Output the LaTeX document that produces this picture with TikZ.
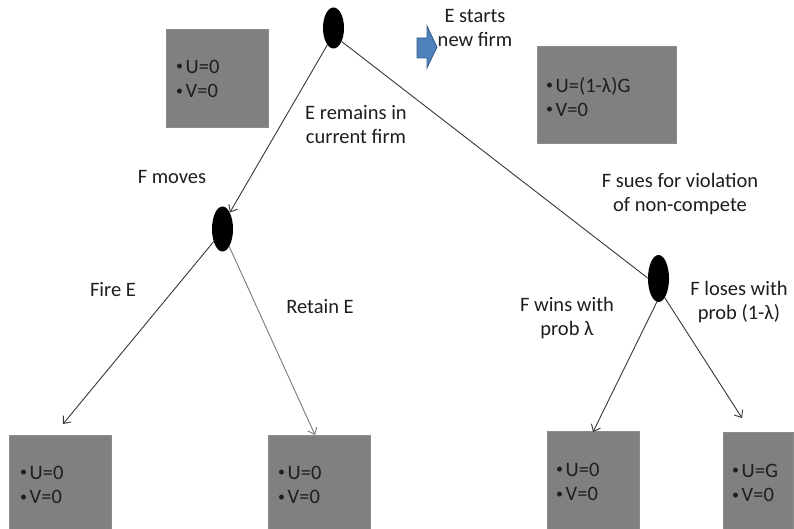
\documentclass[tikz,border=0pt]{standalone}
\usepackage{fontspec}
\setmainfont{Carlito}
\usetikzlibrary{shapes.geometric,arrows.meta}
\definecolor{boxgray}{HTML}{808080}
\definecolor{boxedge}{HTML}{8C8C8C}
\definecolor{txt}{HTML}{1E1E1E}
\definecolor{linec}{HTML}{383838}
\definecolor{lightline}{HTML}{7A7A7A}
\definecolor{arrowblue}{HTML}{4F81BD}
\definecolor{arrowedge}{HTML}{385D8A}
\newcommand\pbul{\raisebox{2.8pt}{\fontsize{14}{14}\selectfont•}\hspace{2.5pt}}
\begin{document}
\begin{tikzpicture}[x=1pt,y=-1pt,
  dot/.style={ellipse,fill=black,draw=none,inner sep=0pt},
  payoff/.style={rectangle,fill=boxgray,draw=boxedge,anchor=north west,inner sep=0pt,line width=0.8pt},
  lbl/.style={align=center,font=\fontsize{20.5}{24}\selectfont,text=txt,inner sep=0pt},
  btxt/.style={align=left,anchor=west,font=\fontsize{20.5}{24.5}\selectfont,text=txt,inner sep=0pt},
  arr/.style={draw=linec,line width=0.9pt,-{Straight Barb[length=6pt,width=10pt]}},
  plain/.style={draw=linec,line width=0.9pt}]
\clip (0,0) rectangle (794,529);
\fill[white] (0,0) rectangle (794,529);

% decision nodes
\node[dot,minimum width=21pt,minimum height=41pt] (root) at (333.5,28) {};
\node[dot,minimum width=21pt,minimum height=45pt] (fm) at (222.5,229) {};
\node[dot,minimum width=21pt,minimum height=47pt] (sue) at (658.5,278.5) {};

% payoff boxes
\node[payoff,minimum width=102pt,minimum height=98pt] (b0) at (166,29) {};
\node[payoff,minimum width=139pt,minimum height=97pt] (b1) at (537,46) {};
\node[payoff,minimum width=102pt,minimum height=100pt] (b2) at (9,435) {};
\node[payoff,minimum width=102pt,minimum height=100pt] (b3) at (268,435) {};
\node[payoff,minimum width=92pt,minimum height=100pt] (b4) at (547,431) {};
\node[payoff,minimum width=70pt,minimum height=100pt] (b5) at (723,432) {};

\node[btxt] (t0) at ([xshift=10pt,yshift=-50pt]b0.north west) {\pbul U=0\\\pbul V=0};
\node[btxt] (t1) at ([xshift=9pt,yshift=-51pt]b1.north west) {\pbul U=(1-λ)G\\\pbul V=0};
\node[btxt] (t2) at ([xshift=11pt,yshift=-50pt]b2.north west) {\pbul U=0\\\pbul V=0};
\node[btxt] (t3) at ([xshift=10pt,yshift=-50pt]b3.north west) {\pbul U=0\\\pbul V=0};
\node[btxt] (t4) at ([xshift=9pt,yshift=-51pt]b4.north west) {\pbul U=0\\\pbul V=0};
\node[btxt] (t5) at ([xshift=9pt,yshift=-51pt]b5.north west) {\pbul U=G\\\pbul V=0};

% labels
\node[lbl] (lstart) at (475,27.5) {E starts\\new firm};
\node[lbl] (lremain) at (356,125) {E remains in\\current firm};
\node[lbl] (lmoves) at (172,177) {F moves};
\node[lbl] (lfire) at (113,290) {Fire E};
\node[lbl] (lretain) at (320,307) {Retain E};
\node[lbl] (lsue) at (680,194) {F sues for violation\\of non-compete};
\node[lbl] (lwins) at (567,318.5) {F wins with\\prob λ};
\node[lbl] (lloses) at (739,302.5) {F loses with\\prob (1-λ)};

% block arrow
\filldraw[fill=arrowblue,draw=arrowedge,line width=0.8pt]
  (417,38) -- (427,38) -- (427,26) -- (437,47) -- (427,68) -- (427,58) -- (417,58) -- cycle;

% free ends of connectors
\coordinate (efire) at (63,424);
\coordinate (eretain) at (315,435);
\coordinate (ewins) at (593,432);
\coordinate (eloses) at (742,418);

% connectors
\draw[arr] (root.250) -- (fm.66);
\draw[plain] (root.301) -- (sue.178);
\draw[arr] (fm.235) -- (efire);
\draw[arr,draw=lightline] (fm.291) -- (eretain);
\draw[arr] (sue.266) -- (ewins);
\draw[arr] (sue.288) -- (eloses);
\end{tikzpicture}
\end{document}
